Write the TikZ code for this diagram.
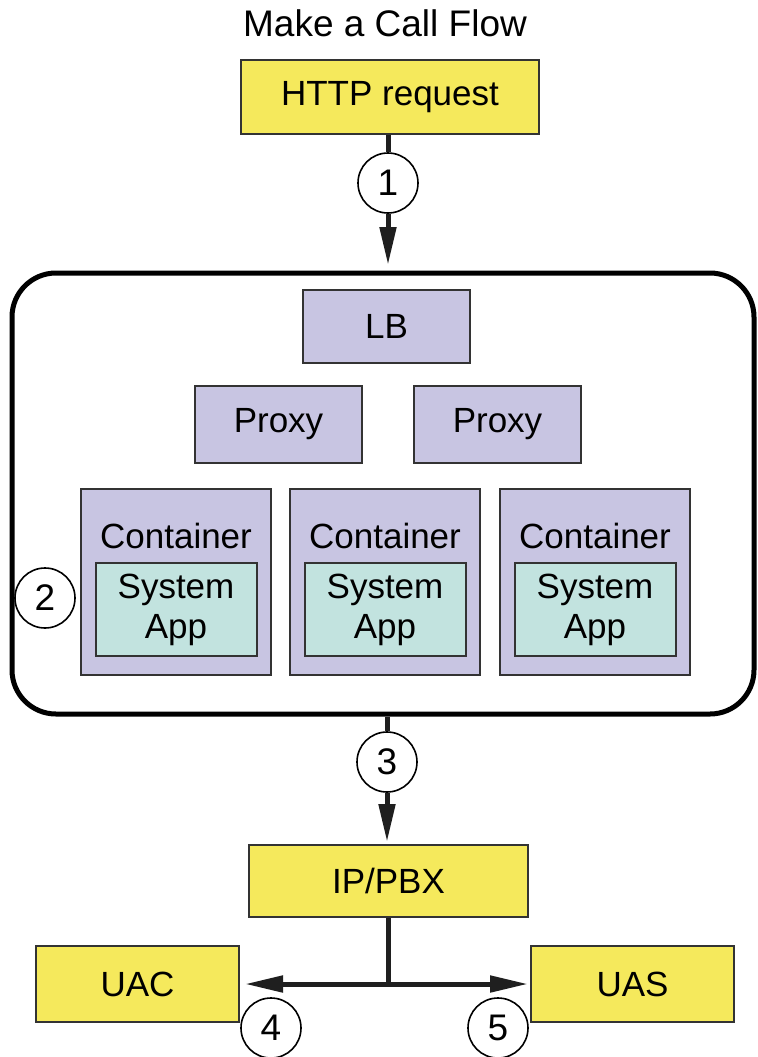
\documentclass[tikz,border=0pt]{standalone}
\usepackage{fontspec}
\setmainfont{Liberation Sans}
\usetikzlibrary{arrows.meta,positioning}
\definecolor{boxyellow}{RGB}{245,233,92}
\definecolor{boxpurple}{RGB}{200,197,226}
\definecolor{boxteal}{RGB}{194,227,223}
\tikzset{
	ybox/.style={draw=black!80, line width=1pt, fill=boxyellow, inner sep=0pt, font=\fontsize{17.5}{21}\selectfont},
	pbox/.style={draw=black!80, line width=1pt, fill=boxpurple, inner sep=0pt, font=\fontsize{17.5}{21}\selectfont},
	abox/.style={draw=black!80, line width=1pt, fill=boxteal, inner sep=0pt, align=center, font=\fontsize{17.5}{20}\selectfont},
	num/.style={circle, draw=black, line width=0.8pt, fill=white, minimum size=30pt, inner sep=0pt, font=\fontsize{18.5}{20}\selectfont},
	wire/.style={line width=2.5pt, draw=black!88},
	flow/.style={wire, -{Triangle[length=19pt,width=8pt]}},
}

\begin{document}
\begin{tikzpicture}[x=0.5pt, y=-0.5pt]
			%%%%% START %%%%%
			\useasboundingbox (0, 0) rectangle (757, 1057);
			
			\node[font=\fontsize{18.5}{21}\selectfont] (title) at (385, 23) {Make a Call Flow};
			\node[ybox, minimum width=149pt, minimum height=37pt] (http) at (390, 97) {HTTP request};
			\node[num] (c1) at (388, 183) {1};
			
			% platform box
			\node[draw, line width=2.5pt, rounded corners=22pt, minimum width=371pt, minimum height=220.5pt] (platform) at (383, 493.5) {};
			\coordinate (platformin) at (388, 265);
			\draw[wire] (c1 |- http.south) -- (c1);
			\draw[flow] (c1) -- (platformin);
			
			\node[pbox, minimum width=83.5pt, minimum height=36.5pt] (lb) at (386.5, 326.5) {LB};
			\node[pbox, minimum width=83.5pt, minimum height=38.5pt] (proxy1) at (278.5, 424.5) {Proxy};
			\node[pbox, minimum width=83.5pt, minimum height=38.5pt] (proxy2) at (497.5, 424.5) {Proxy};
			
			\foreach \cx/\nm in {176/1, 385/2, 595/3} {
				\node[pbox, minimum width=95pt, minimum height=93pt] (cont\nm) at (\cx, 582) {};
				\node[font=\fontsize{17.5}{21}\selectfont] (contlabel\nm) at (\cx, 536) {Container};
				\node[abox, minimum width=80.5pt, minimum height=46.5pt] (app\nm) at (\cx, 609.5) {System\\App};
			}
			\node[num] (c2) at (45, 598) {2};
			
			% out to the PBX
			\node[num] (c3) at (387, 762) {3};
			\node[ybox, minimum width=139.5pt, minimum height=36pt] (ippbx) at (388.5, 881) {IP/PBX};
			\draw[wire] (c3 |- platform.south) -- (c3);
			\draw[flow, shorten >=1pt] (c3) -- (c3 |- ippbx.north);
			
			\node[ybox, minimum width=101.5pt, minimum height=38pt] (uac) at (137.5, 984) {UAC};
			\node[ybox, minimum width=101.5pt, minimum height=38pt] (uas) at (632.5, 984) {UAS};
			\coordinate (split) at (ippbx.south |- uac.east);
			\draw[wire] (ippbx.south) -- (split);
			\draw[flow, shorten >=2.5pt] (split) -- (uac.east);
			\draw[flow, shorten >=1pt] (split) -- (uas.west);
			\node[num] (c4) at (271, 1028) {4};
			\node[num] (c5) at (498, 1028) {5};
			
			%%%%% END %%%%%
\end{tikzpicture}
\end{document}
